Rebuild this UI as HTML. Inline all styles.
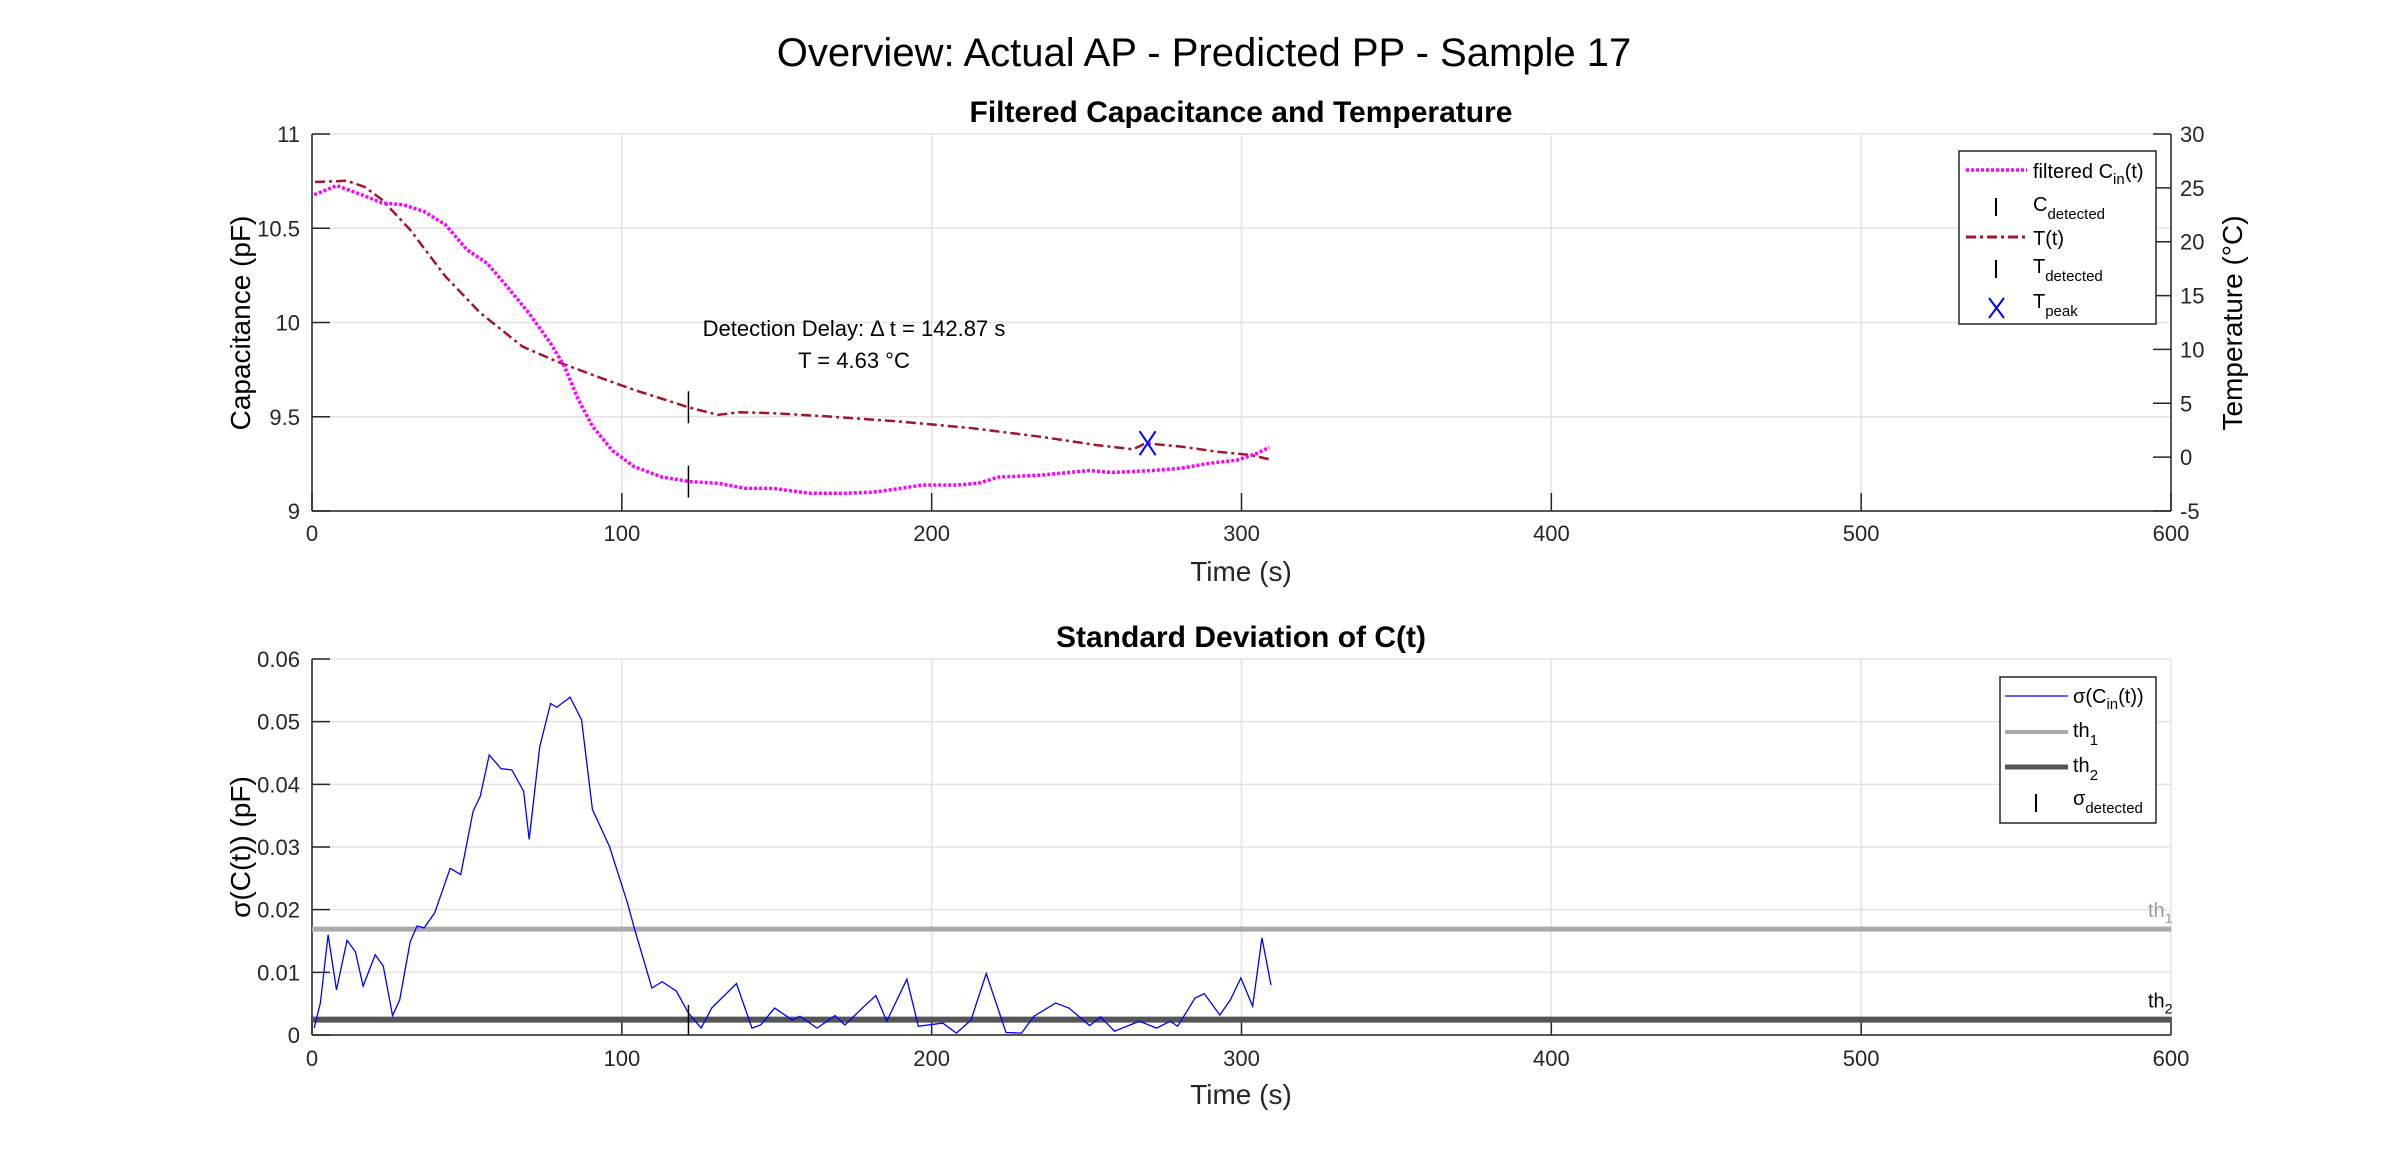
<!DOCTYPE html>
<html><head><meta charset="utf-8"><style>
body{margin:0;background:#fff;}
svg text{font-family:"Liberation Sans",sans-serif;}
</style></head><body>
<svg id="fig" width="2400" height="1158" xmlns="http://www.w3.org/2000/svg">
<rect width="2400" height="1158" fill="#fff"/>
<text x="1204" y="66" font-size="40" text-anchor="middle">Overview: Actual AP - Predicted PP - Sample 17</text>
<text x="1241" y="122" font-size="30" font-weight="bold" text-anchor="middle">Filtered Capacitance and Temperature</text>
<text x="1241" y="647" font-size="30" font-weight="bold" text-anchor="middle">Standard Deviation of C(t)</text>
<g id="topchart"></g>
<g id="botchart"></g>
</svg>
<script>
// ---- data ----
const cTime=[0.7,8,16,22.6,29.4,36,43,50,56.5,63,70,77,81.4,86,90.5,97,104,113,122,131,140,149,160.6,172,181,190,197,208,215,221.7,235,251,258,271.5,280.5,289.6,298.6,305,309];
const cVals=[10.678,10.726,10.678,10.634,10.625,10.59,10.52,10.386,10.315,10.19,10.05,9.89,9.77,9.59,9.45,9.32,9.235,9.18,9.156,9.147,9.12,9.12,9.094,9.094,9.10,9.12,9.138,9.138,9.147,9.18,9.19,9.215,9.204,9.215,9.227,9.253,9.27,9.306,9.338];
const tTime=[1,11.3,17,22.6,31.7,43,54.3,67.9,79,90.5,104,121.5,131,138,149,167,190,212.7,235,253,265,269,280.5,292,303,309];
const tVals=[25.54,25.66,25.08,23.9,21.1,16.8,13.4,10.27,8.88,7.64,6.24,4.63,3.93,4.17,4.08,3.77,3.3,2.7,1.9,1.13,0.73,1.29,0.98,0.51,0.2,-0.2];
const sTime=[0.7,2.7,5.2,7.9,11.3,14,16.5,20.4,23,26,28.3,31.7,33.9,36.2,39.6,44.6,48,52,54.3,57.2,61,64.5,68.3,70.1,73.5,77,79,83.3,87,90.5,96,101.8,104,109.7,113,117.6,121.5,125.6,129,137,142,144.8,149.3,155,157.5,163,168.8,172,177.6,182,185.5,192,195.7,203.6,208,212.7,217.6,224,229,233,240,244.3,251,254.5,259,267,272.6,277,279.4,285,288,293,296.4,299.8,303.6,306.6,309.5];
const sVals=[0.0011,0.0051,0.016,0.0072,0.0151,0.0133,0.0078,0.0128,0.011,0.0031,0.0056,0.0149,0.0174,0.0171,0.0195,0.0266,0.0256,0.0357,0.0381,0.0447,0.0425,0.0423,0.0389,0.0312,0.046,0.0529,0.0523,0.0539,0.0503,0.036,0.0301,0.0211,0.0171,0.0075,0.0085,0.007,0.0035,0.0011,0.0043,0.0082,0.0011,0.0016,0.0043,0.0024,0.003,0.0011,0.0031,0.0016,0.0043,0.0063,0.0022,0.0089,0.0014,0.0019,0.0003,0.0024,0.0098,0.0004,0.0003,0.003,0.0051,0.0043,0.0015,0.0029,0.0006,0.0022,0.0011,0.0022,0.0014,0.0059,0.0066,0.0032,0.0056,0.0091,0.0046,0.0155,0.008];
const th1=0.0169, th2=0.00245;
const detectTime=121.5, peakTime=269.7, peakTemp=1.3;
const xTicks=[0,100,200,300,400,500,600];
const cTicks=[9,9.5,10,10.5,11];
const tTicks=[-5,0,5,10,15,20,25,30];
const sTicks=[0,0.01,0.02,0.03,0.04,0.05,0.06];

const NS="http://www.w3.org/2000/svg";
function mk(parent,tag,attrs,text){const e=document.createElementNS(NS,tag);for(const k in attrs)e.setAttribute(k,attrs[k]);if(text!==undefined)e.textContent=text;parent.appendChild(e);return e;}
const X0=312,X1=2171;
const xs=t=>X0+(t/600)*(X1-X0);
const T0=134,T1=511,B0=659,B1=1035;
const yc=v=>T1-(v-9)/2*(T1-T0);
const yt=v=>T1-(v+5)/35*(T1-T0);
const ys=v=>B1-v/0.06*(B1-B0);

// ---- top chart ----
const topG=document.getElementById('topchart');
xTicks.forEach(t=>{const l=mk(topG,'line',{x1:xs(t),x2:xs(t),y1:T0,y2:T1,stroke:'#e3e3e3','stroke-width':1.5});
});
cTicks.forEach(v=>{const l=mk(topG,'line',{x1:X0,x2:X1,y1:yc(v),y2:yc(v),stroke:'#e3e3e3','stroke-width':1.5});
});
mk(topG,'line',{x1:X0,x2:X0,y1:T0,y2:T1,stroke:'#262626','stroke-width':1.5});
mk(topG,'line',{x1:X1,x2:X1,y1:T0,y2:T1,stroke:'#262626','stroke-width':1.5});
mk(topG,'line',{x1:X0,x2:X1,y1:T1,y2:T1,stroke:'#262626','stroke-width':1.5});
xTicks.forEach(t=>{mk(topG,'line',{x1:xs(t),x2:xs(t),y1:T1,y2:T1-18,stroke:'#262626','stroke-width':1.5});
const e=mk(topG,'text',{x:xs(t),y:541,'font-size':22,'text-anchor':'middle',fill:'#262626'},t);
});
cTicks.forEach(v=>{mk(topG,'line',{x1:X0,x2:X0+18,y1:yc(v),y2:yc(v),stroke:'#262626','stroke-width':1.5});
const e=mk(topG,'text',{x:300,y:yc(v)+8,'font-size':22,'text-anchor':'end',fill:'#262626'},v);
});
tTicks.forEach(v=>{mk(topG,'line',{x1:X1-18,x2:X1,y1:yt(v),y2:yt(v),stroke:'#262626','stroke-width':1.5});
const e=mk(topG,'text',{x:2180,y:yt(v)+8,'font-size':22,fill:'#262626'},v);
});
let e;
e=mk(topG,'text',{x:1241,y:581,'font-size':28,'text-anchor':'middle',fill:'#262626'},'Time (s)');

e=mk(topG,'text',{x:250,y:323,'font-size':28,'text-anchor':'middle',fill:'#000',transform:'rotate(-90 250 323)'},'Capacitance (pF)');

e=mk(topG,'text',{x:2242,y:323,'font-size':28,'text-anchor':'middle',fill:'#000',transform:'rotate(-90 2242 323)'},'Temperature (°C)');


e=mk(topG,'polyline',{points:tTime.map((t,i)=>xs(t)+','+yt(tVals[i])).join(' '),fill:'none',stroke:'#a2142f','stroke-width':2.5,'stroke-dasharray':'10,4,3,4'});

e=mk(topG,'polyline',{points:cTime.map((t,i)=>xs(t)+','+yc(cVals[i])).join(' '),fill:'none',stroke:'#ff00ff','stroke-width':3.5,'stroke-dasharray':'3,2'});

e=mk(topG,'line',{x1:xs(detectTime),x2:xs(detectTime),y1:yt(4.63)-16,y2:yt(4.63)+16,stroke:'#000','stroke-width':1.5});

const cd=9.156;
e=mk(topG,'line',{x1:xs(detectTime),x2:xs(detectTime),y1:yc(cd)-16,y2:yc(cd)+16,stroke:'#000','stroke-width':1.5});

const px=xs(peakTime),py=yt(peakTemp);
e=mk(topG,'path',{d:`M${px-8},${py-12}L${px+8},${py+12}M${px-8},${py+12}L${px+8},${py-12}`,stroke:'#0000ff','stroke-width':2,fill:'none'});

e=mk(topG,'text',{x:854,y:336,'font-size':22,'text-anchor':'middle'},'Detection Delay: Δ t = 142.87 s');

e=mk(topG,'text',{x:854,y:368,'font-size':22,'text-anchor':'middle'},'T = 4.63 °C');


// ---- bottom chart ----
const botG=document.getElementById('botchart');
xTicks.forEach(t=>{const l=mk(botG,'line',{x1:xs(t),x2:xs(t),y1:B0,y2:B1,stroke:'#e3e3e3','stroke-width':1.5});
});
sTicks.forEach(v=>{const l=mk(botG,'line',{x1:X0,x2:X1,y1:ys(v),y2:ys(v),stroke:'#e3e3e3','stroke-width':1.5});
});
mk(botG,'line',{x1:X0,x2:X0,y1:B0,y2:B1,stroke:'#262626','stroke-width':1.5});
mk(botG,'line',{x1:X0,x2:X1,y1:B1,y2:B1,stroke:'#262626','stroke-width':1.5});
xTicks.forEach(t=>{mk(botG,'line',{x1:xs(t),x2:xs(t),y1:B1,y2:B1-18,stroke:'#262626','stroke-width':1.5});
const q=mk(botG,'text',{x:xs(t),y:1066,'font-size':22,'text-anchor':'middle',fill:'#262626'},t);
});
sTicks.forEach(v=>{mk(botG,'line',{x1:X0,x2:X0+18,y1:ys(v),y2:ys(v),stroke:'#262626','stroke-width':1.5});
const q=mk(botG,'text',{x:300,y:ys(v)+8,'font-size':22,'text-anchor':'end',fill:'#262626'},v);
});
e=mk(botG,'text',{x:1241,y:1104,'font-size':28,'text-anchor':'middle',fill:'#262626'},'Time (s)');

e=mk(botG,'text',{x:250,y:847,'font-size':28,'text-anchor':'middle',transform:'rotate(-90 250 847)'},'σ(C(t)) (pF)');

e=mk(botG,'line',{x1:X0,x2:X1,y1:ys(th1),y2:ys(th1),stroke:'#aaaaaa','stroke-width':5});

e=mk(botG,'line',{x1:X0,x2:X1,y1:ys(th2),y2:ys(th2),stroke:'#555555','stroke-width':6});

e=mk(botG,'polyline',{points:sTime.map((t,i)=>xs(t)+','+ys(sVals[i])).join(' '),fill:'none',stroke:'#0000ff','stroke-width':1.3});

e=mk(botG,'line',{x1:xs(detectTime),x2:xs(detectTime),y1:B1,y2:ys(0.0048),stroke:'#000','stroke-width':1.5});

e=mk(botG,'text',{x:2148,y:ys(th1)-12,'font-size':20,fill:'#999'});
e.innerHTML='th<tspan font-size="14" dy="6">1</tspan>';

e=mk(botG,'text',{x:2148,y:ys(th2)-12,'font-size':20,fill:'#000'});
e.innerHTML='th<tspan font-size="14" dy="6">2</tspan>';


// ---- legends ----
const lg1=mk(topG,'g',{});

mk(lg1,'rect',{x:1959,y:151,width:197,height:173,fill:'#fff',stroke:'#262626','stroke-width':1.5});
mk(lg1,'line',{x1:1966,x2:2027,y1:170,y2:170,stroke:'#ff00ff','stroke-width':3.5,'stroke-dasharray':'3,2'});
mk(lg1,'text',{x:2033,y:178,'font-size':20}).innerHTML='filtered C<tspan font-size="15" dy="6">in</tspan><tspan dy="-6">(t)</tspan>';
mk(lg1,'line',{x1:1996,x2:1996,y1:198,y2:216,stroke:'#000','stroke-width':2});
mk(lg1,'text',{x:2033,y:211,'font-size':20}).innerHTML='C<tspan font-size="15" dy="8">detected</tspan>';
mk(lg1,'line',{x1:1966,x2:2026,y1:237,y2:237,stroke:'#a2142f','stroke-width':3,'stroke-dasharray':'10,4,3,4'});
mk(lg1,'text',{x:2033,y:245,'font-size':20},'T(t)');
mk(lg1,'line',{x1:1996,x2:1996,y1:260,y2:278,stroke:'#000','stroke-width':2});
mk(lg1,'text',{x:2033,y:273,'font-size':20}).innerHTML='T<tspan font-size="15" dy="8">detected</tspan>';
mk(lg1,'path',{d:'M1989,298L2004,318M1989,318L2004,298',stroke:'#0000ff','stroke-width':2,fill:'none'});
mk(lg1,'text',{x:2033,y:308,'font-size':20}).innerHTML='T<tspan font-size="15" dy="8">peak</tspan>';

const lg2=mk(botG,'g',{});

mk(lg2,'rect',{x:2000,y:677,width:156,height:146,fill:'#fff',stroke:'#262626','stroke-width':1.5});
mk(lg2,'line',{x1:2005,x2:2068,y1:696,y2:696,stroke:'#0000ff','stroke-width':1.3});
mk(lg2,'text',{x:2073,y:703,'font-size':20}).innerHTML='σ(C<tspan font-size="15" dy="6">in</tspan><tspan dy="-6">(t))</tspan>';
mk(lg2,'line',{x1:2005,x2:2068,y1:732,y2:732,stroke:'#aaaaaa','stroke-width':4});
mk(lg2,'text',{x:2073,y:737,'font-size':20}).innerHTML='th<tspan font-size="15" dy="8">1</tspan>';
mk(lg2,'line',{x1:2005,x2:2068,y1:767,y2:767,stroke:'#555555','stroke-width':5});
mk(lg2,'text',{x:2073,y:772,'font-size':20}).innerHTML='th<tspan font-size="15" dy="8">2</tspan>';
mk(lg2,'line',{x1:2036,x2:2036,y1:794,y2:812,stroke:'#000','stroke-width':2});
mk(lg2,'text',{x:2073,y:805,'font-size':20}).innerHTML='σ<tspan font-size="15" dy="8">detected</tspan>';
</script>
</body></html>
